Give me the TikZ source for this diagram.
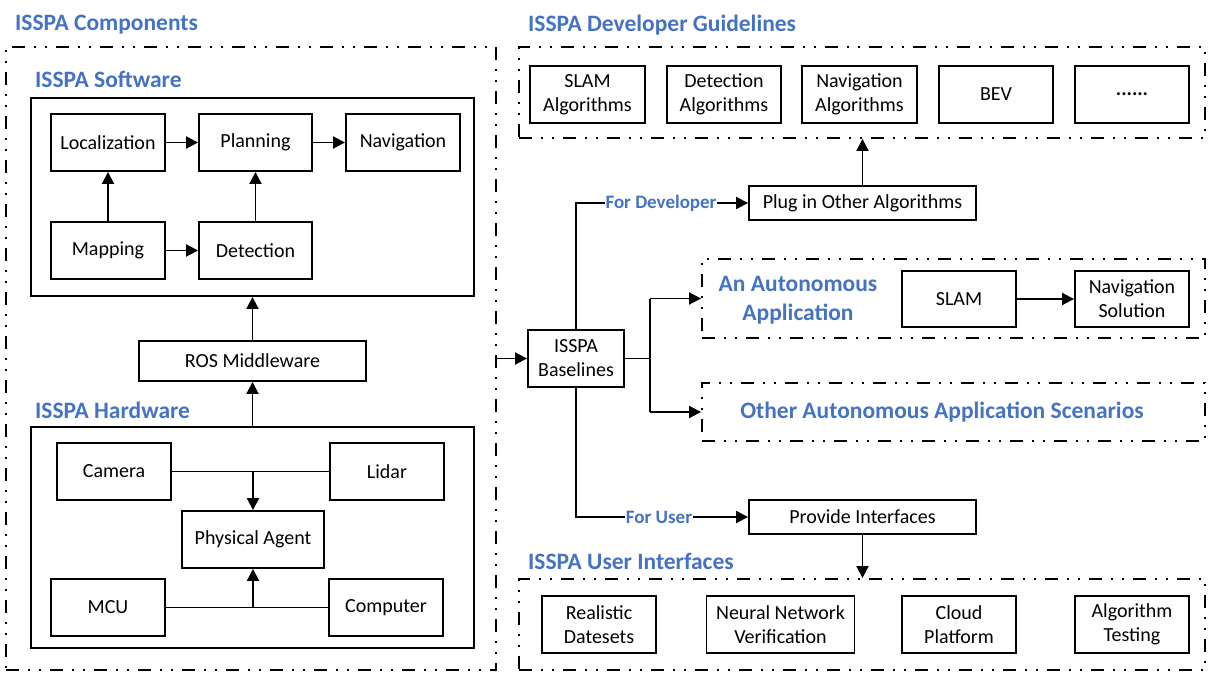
\documentclass[tikz,border=0pt]{standalone}
\usepackage{fontspec}
\setmainfont{Carlito}
\usetikzlibrary{arrows.meta}
\definecolor{hblue}{RGB}{68,114,196}
\tikzset{
  box/.style={draw, line width=1.9pt, inner sep=0pt, align=center, font=\fontsize{20}{24}\selectfont},
  group/.style={draw, line width=1.9pt, inner sep=0pt, dash pattern=on 13pt off 9pt on 2pt off 9pt on 2pt off 9pt},
  heading/.style={anchor=west, inner sep=0pt, text=hblue, font=\fontsize{23.5}{28}\selectfont\bfseries},
  lab/.style={inner sep=1pt, fill=white, text=hblue, font=\fontsize{19}{22}\selectfont\bfseries},
  conn/.style={line width=1.9pt, -{Triangle[length=12pt,width=12pt]}},
  line/.style={line width=1.9pt},
}
\begin{document}
\begin{tikzpicture}[x=1pt,y=-1pt]
\useasboundingbox (0,0) rectangle (1209,674);
% ---------- left: components ----------
\node[group, minimum width=490pt, minimum height=623pt] (compbox) at (251,358.5) {};
\node[heading] (hcomp) at (15,25) {ISSPA Components};
\node[heading] (hsw) at (35,79) {ISSPA Software};
\node[draw, line width=1.9pt, minimum width=443pt, minimum height=198pt] (swbox) at (252.5,197) {};
\node[box, minimum width=114pt, minimum height=57pt] (loc) at (108,142.5) {Localization};
\node[box, minimum width=113pt, minimum height=57pt] (plan) at (255.5,142.5) {Planning};
\node[box, minimum width=114pt, minimum height=57pt] (nav) at (403,142.5) {Navigation};
\node[box, minimum width=114pt, minimum height=57pt] (map) at (108,250.5) {Mapping};
\node[box, minimum width=113pt, minimum height=57pt] (det) at (255.5,250.5) {Detection};
\draw[conn] (loc.east) -- (plan.west);
\draw[conn] (plan.east) -- (nav.west);
\draw[conn] (map.north) -- (loc.south);
\draw[conn] (map.east) -- (det.west);
\draw[conn] (det.north) -- (plan.south);
\node[box, minimum width=227pt, minimum height=40pt] (ros) at (252.5,361) {ROS Middleware};
\node[heading] (hhw) at (35,410) {ISSPA Hardware};
\node[draw, line width=1.9pt, minimum width=443pt, minimum height=221pt] (hwbox) at (252.5,537.5) {};
\draw[conn] (ros.north) -- (ros.north |- swbox.south);
\draw[conn] (hwbox.north -| ros.south) -- (ros.south);
\node[box, minimum width=114pt, minimum height=57pt] (cam) at (114,471.5) {Camera};
\node[box, minimum width=114pt, minimum height=57pt] (lidar) at (387,471.5) {Lidar};
\node[box, minimum width=142pt, minimum height=57pt] (pa) at (253,539.5) {Physical Agent};
\node[box, minimum width=114pt, minimum height=57pt] (mcu) at (108,607.5) {MCU};
\node[box, minimum width=114pt, minimum height=57pt] (pc) at (386,607.5) {Computer};
\coordinate (jtop) at (pa.north |- cam.east);
\coordinate (jbot) at (pa.south |- mcu.east);
\draw[line] (cam.east) -- (lidar.west);
\draw[conn] (jtop) -- (pa.north);
\draw[line] (mcu.east) -- (pc.west);
\draw[conn] (jbot) -- (pa.south);
% ---------- right ----------
\node[heading] (hdev) at (528,25) {ISSPA Developer Guidelines};
\node[group, minimum width=686pt, minimum height=91pt] (devbox) at (862,92.5) {};
\node[box, minimum width=115pt, minimum height=57pt] (slamA) at (587.5,94.5) {SLAM\\Algorithms};
\node[box, minimum width=114pt, minimum height=57pt] (detA) at (724,94.5) {Detection\\Algorithms};
\node[box, minimum width=115pt, minimum height=57pt] (navA) at (859.5,94.5) {Navigation\\Algorithms};
\node[box, minimum width=114pt, minimum height=57pt] (bev) at (996,94.5) {BEV};
\node[box, minimum width=114pt, minimum height=57pt] (more) at (1132,94.5) {\textbf{......}};
\node[box, minimum width=227pt, minimum height=34pt] (plug) at (862.5,203) {Plug in Other Algorithms};
\draw[conn] (plug.north) -- (plug.north |- devbox.south);
\node[box, minimum width=96pt, minimum height=57pt] (base) at (576,358.5) {ISSPA\\Baselines};
\draw[conn] (compbox.east |- base.west) -- (base.west);
\draw[conn] (base.north) |- (plug.west);
\node[lab] (ldev) at (661,203) {For Developer};
% applications
\node[group, minimum width=503pt, minimum height=79pt] (appbox) at (953.5,298.5) {};
\node[inner sep=0pt, align=center, text=hblue, font=\fontsize{23.5}{29}\selectfont\bfseries] (apptext) at (798,300) {An Autonomous\\Application};
\node[box, minimum width=114pt, minimum height=56pt] (slam) at (959,299) {SLAM};
\node[box, minimum width=114pt, minimum height=56pt] (navsol) at (1132,299) {Navigation\\Solution};
\draw[conn] (slam.east) -- (navsol.west);
\node[group, minimum width=503pt, minimum height=58pt] (otherbox) at (953.5,412) {};
\node[inner sep=0pt, text=hblue, font=\fontsize{23.5}{28}\selectfont\bfseries] (othertext) at (942,412) {Other Autonomous Application Scenarios};
\coordinate (split) at (650,358.5);
\coordinate (splittop) at (650,298.5);
\coordinate (splitbot) at (650,412);
\draw[line] (base.east) -- (split);
\draw[line] (splittop) -- (splitbot);
\draw[conn] (splittop) -- (appbox.west);
\draw[conn] (splitbot) -- (otherbox.west);
% user
\node[box, minimum width=227pt, minimum height=34pt] (prov) at (862.5,517) {Provide Interfaces};
\draw[conn] (base.south) |- (prov.west);
\node[lab] (luser) at (659,517) {For User};
\node[heading] (huser) at (528,561) {ISSPA User Interfaces};
\node[group, minimum width=686pt, minimum height=91pt] (userbox) at (862,624.5) {};
\draw[conn] (prov.south) -- (prov.south |- userbox.north);
\node[box, minimum width=114pt, minimum height=57pt] (real) at (599,624.5) {Realistic\\Datesets};
\node[box, minimum width=148pt, minimum height=57pt] (nnv) at (780.5,624.5) {Neural Network\\Verification};
\node[box, minimum width=114pt, minimum height=57pt] (cloud) at (959,624.5) {Cloud\\Platform};
\node[box, minimum width=114pt, minimum height=57pt] (algt) at (1132,624.5) {Algorithm\\Testing};
\end{tikzpicture}
\end{document}
